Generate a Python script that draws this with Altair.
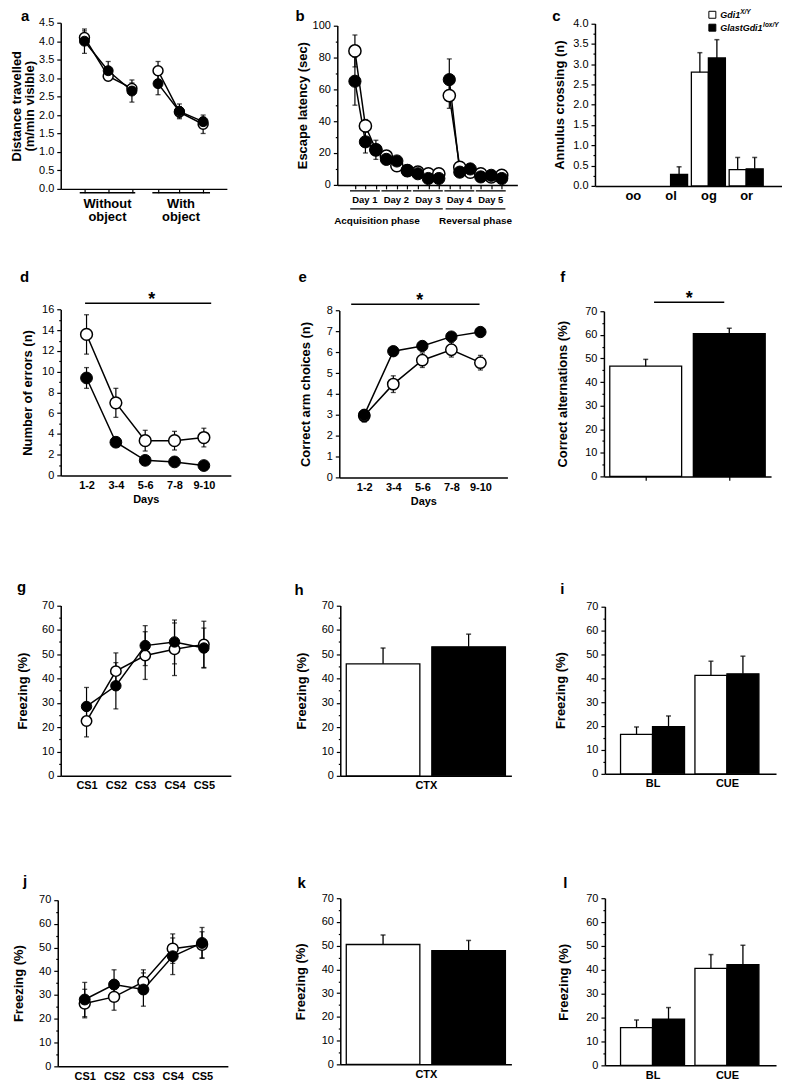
import altair as alt
import pandas as pd

FONT = "Liberation Sans"

# ---------------- panel a : open field ----------------
a_x = [1, 2, 3, 4.1, 5, 6]
a_seg = ["1", "1", "1", "2", "2", "2"]
a_open = [4.1, 3.05, 2.72, 3.2, 2.08, 1.75]
a_open_err = [0.18, 0.1, 0.15, 0.25, 0.15, 0.25]
a_fill = [4.0, 3.2, 2.65, 2.85, 2.1, 1.82]
a_fill_err = [0.33, 0.25, 0.3, 0.3, 0.2, 0.12]
a_groups = ["Without\nobject", "With\nobject"]

# ---------------- panel b : water maze ----------------
b_x = list(range(1, 16))
b_seg = ["1"] * 9 + ["2"] * 6
b_open = [84, 37, 22, 18, 12, 9, 8, 7, 7, 56, 11, 8, 7, 5, 6]
b_open_err = [10, 4, 3, 2, 2, 1.5, 1.5, 1.5, 1.5, 8, 2, 1.5, 1.5, 1, 1]
b_fill = [65, 27, 22, 16, 15, 9, 7, 4, 4, 66, 8, 10, 5, 6, 4]
b_fill_err = [15, 7, 6, 2, 2, 2, 1.5, 1, 1, 13, 2, 2, 1, 1, 1]
b_days = ["Day 1", "Day 2", "Day 3", "Day 4", "Day 5"]
b_phases = ["Acquisition phase", "Reversal phase"]

# ---------------- panel c : annulus crossing ----------------
c_cats = ["oo", "ol", "og", "or"]
c_open = [0, 0, 2.8, 0.4]
c_open_err = [0, 0, 0.48, 0.3]
c_fill = [0, 0.28, 3.15, 0.42]
c_fill_err = [0, 0.19, 0.45, 0.28]
legend_names = ["Gdi1", "GlastGdi1"]
legend_sups = ["X/Y", "lox/Y"]

# ---------------- panels d, e : radial maze ----------------
days = ["1-2", "3-4", "5-6", "7-8", "9-10"]
d_open = [13.6, 7.0, 3.35, 3.35, 3.65]
d_open_err = [1.9, 1.4, 1.0, 0.9, 0.9]
d_fill = [9.4, 3.2, 1.45, 1.3, 0.95]
d_fill_err = [1.0, 0.3, 0.25, 0.25, 0.2]

e_open = [2.95, 4.47, 5.62, 6.12, 5.5]
e_open_err = [0.3, 0.4, 0.35, 0.35, 0.35]
e_fill = [3.0, 6.05, 6.3, 6.75, 6.97]
e_fill_err = [0.2, 0.15, 0.15, 0.15, 0.15]

# ---------------- panel f : alternations ----------------
f_vals = [46.7, 60.5]
f_err = [2.9, 2.3]

# ---------------- panels g-i : fear conditioning ----------------
cs = ["CS1", "CS2", "CS3", "CS4", "CS5"]
g_open = [22.5, 43.0, 49.4, 52.0, 54.0]
g_open_err = [6.5, 7.5, 9.8, 10.8, 9.5]
g_fill = [28.5, 37.0, 53.5, 55.0, 52.5]
g_fill_err = [7.8, 9.5, 8.2, 9.0, 8.2]

h_vals = [46.0, 53.0]
h_err = [6.5, 5.2]

cue_cats = ["BL", "CUE"]
i_open = [16.5, 41.2]
i_open_err = [3.1, 5.9]
i_fill = [19.7, 41.8]
i_fill_err = [4.5, 7.4]

# ---------------- panels j-l ----------------
j_open = [26.4, 29.2, 35.5, 49.5, 51.1]
j_open_err = [6.0, 5.6, 5.1, 6.2, 5.5]
j_fill = [28.1, 34.4, 32.3, 46.3, 51.9]
j_fill_err = [7.2, 6.2, 7.0, 7.7, 6.5]

k_vals = [50.5, 47.9]
k_err = [4.0, 4.3]

l_open = [15.8, 40.6]
l_open_err = [3.2, 5.8]
l_fill = [19.3, 42.2]
l_fill_err = [4.9, 8.1]


# ======================= helpers =======================
def lines_df(x, ov, oe, fv, fe, seg=None):
    rows = []
    for g, vals, errs in (("open", ov, oe), ("fill", fv, fe)):
        for i in range(len(x)):
            rows.append(dict(x=x[i], y=vals[i], lo=vals[i] - errs[i], hi=vals[i] + errs[i],
                             g=g, seg=g + (seg[i] if seg else "")))
    return pd.DataFrame(rows)


def bars_df(centers, ov, oe, fv, fe, half, paired):
    rows = []
    for i, c in enumerate(centers):
        if paired:
            spans = (("open", c - half, c, ov[i], oe[i]), ("fill", c, c + half, fv[i], fe[i]))
        else:
            spans = ((("open", "fill")[i], c - half, c + half, ov[i], oe[i]),)
        for g, x0, x1, v, e in spans:
            if v > 0:
                rows.append(dict(x0=x0, x1=x1, xm=(x0 + x1) / 2, y=v, hi=v + e, base=0, g=g))
    return pd.DataFrame(rows)


def yaxis(title, major, minor, vmax, fmt, pad, offset=0):
    n = int(round(vmax / minor))
    vals = [round(i * minor, 4) for i in range(n + 1)]
    test = f"abs(datum.value / {major} - round(datum.value / {major})) < 0.001"
    kw = dict(title=title, values=vals, format=fmt, labelExpr=f"{test} ? datum.label : ''",
              tickSize={"condition": {"test": test, "value": 4}, "value": 2},
              titlePadding=pad, labelOverlap=False, grid=False, titleLineHeight=13)
    if offset:
        kw["offset"] = offset
    return alt.Axis(**kw)


def xaxis(values, labels=None, title=None, ticks=False, label_size=11):
    kw = dict(values=values, grid=False, labelOverlap=False)
    if ticks:
        kw["ticks"] = True
        kw["tickSize"] = 4
    else:
        kw["ticks"] = False
    if labels is None:
        kw["labels"] = False
    else:
        arr = "[" + ",".join(f"'{t}'" for t in labels) + "]"
        varr = "[" + ",".join(str(v) for v in values) + "]"
        kw["labelExpr"] = f"{arr}[indexof({varr}, datum.value)]"
        kw["labelFontSize"] = label_size
        kw["labelFontWeight"] = "bold"
        kw["labelPadding"] = 4
    if title is not None:
        kw["title"] = title
        kw["titleFontSize"] = 11
        kw["titlePadding"] = 3
    else:
        kw["title"] = None
    return alt.Axis(**kw)


def letter(t, dx, dy):
    return alt.TitleParams(text=t, anchor="start", frame="group", dx=dx, dy=dy, offset=0,
                           baseline="alphabetic", fontSize=15, fontWeight="bold", font=FONT,
                           color="black")


def line_layers(df, size):
    def fn(X, Y):
        base = alt.Chart(df)
        err = base.mark_rule(color="black", strokeWidth=1.2).encode(x=X("x"), y=Y("lo"), y2="hi")
        cap1 = base.mark_tick(orient="horizontal", size=5, thickness=1.3, color="black").encode(x=X("x"), y=Y("hi"))
        cap2 = base.mark_tick(orient="horizontal", size=5, thickness=1.3, color="black").encode(x=X("x"), y=Y("lo"))
        ln = base.mark_line(color="black", strokeWidth=1.5).encode(x=X("x"), y=Y("y"), detail="seg:N")
        po = base.transform_filter("datum.g == 'open'").mark_circle(
            size=size, fill="white", stroke="black", strokeWidth=1.5, opacity=1).encode(x=X("x"), y=Y("y"))
        pf = base.transform_filter("datum.g == 'fill'").mark_circle(
            size=size, fill="black", stroke="black", strokeWidth=1, opacity=1).encode(x=X("x"), y=Y("y"))
        return [err, cap1, cap2, ln, po, pf]
    return fn


def bar_layers(df):
    def fn(X, Y):
        base = alt.Chart(df)
        bars = base.mark_bar(stroke="black", strokeWidth=1.3).encode(
            x=X("x0"), x2="x1", y=Y("y"), y2="base",
            fill=alt.Fill("g:N", scale=alt.Scale(domain=["open", "fill"], range=["white", "black"]), legend=None))
        err = base.mark_rule(color="black", strokeWidth=1.3).encode(x=X("xm"), y=Y("y"), y2="hi")
        cap = base.mark_tick(orient="horizontal", size=5, thickness=1.5, color="black").encode(x=X("xm"), y=Y("hi"))
        return [bars, err, cap]
    return fn


def panel(fns, xdom, xr, ydom, yr, xax, yax, ttl):
    """xr = (left, right) pixel range inside the cell, yr = (bottom, top)."""
    xs = alt.Scale(domain=xdom, range=list(xr), nice=False, zero=False)
    ys = alt.Scale(domain=ydom, range=list(yr), nice=False, zero=False)

    def X(f):
        return alt.X(f, type="quantitative", scale=xs, axis=xax)

    def Y(f):
        return alt.Y(f, type="quantitative", scale=ys, axis=yax)

    layers = []
    for fn in fns:
        layers += fn(X, Y)
    return alt.layer(*layers).properties(width=xr[1], height=yr[0], title=ttl)


def sig_layers(x1, x2, xstar, y):
    def fn(X, Y):
        d = pd.DataFrame({"x1": [x1], "x2": [x2], "xm": [xstar], "y": [y], "t": ["*"]})
        r = alt.Chart(d).mark_rule(color="black", strokeWidth=1.5).encode(x=X("x1"), x2="x2", y=Y("y"))
        t = alt.Chart(d).mark_text(fontSize=18, fontWeight="bold", baseline="alphabetic", dy=1.3).encode(
            x=X("xm"), y=Y("y"), text="t:N")
        return [r, t]
    return fn


# ======================= panel a =======================
def a_extras(X, Y):
    und = pd.DataFrame({"x1": [0.8, 3.86], "x2": [3.14, 6.29], "xm": [1.97, 5.07],
                        "y": [-0.108, -0.108], "ty": [-0.26, -0.26], "t": a_groups})
    r = alt.Chart(und).mark_rule(color="black", strokeWidth=1.5).encode(x=X("x1"), x2="x2", y=Y("y"))
    t = alt.Chart(und).mark_text(baseline="top", fontSize=13, fontWeight="bold", lineBreak="\n",
                                 lineHeight=13).encode(x=X("xm"), y=Y("ty"), text="t:N")
    return [r, t]


pa = panel([line_layers(lines_df(a_x, a_open, a_open_err, a_fill, a_fill_err, a_seg), 100), a_extras],
           [0, 7], (0, 167), [0, 4.5], (167, 0), xaxis(a_x, ticks=True),
           yaxis(["Distance travelled", "(m/min visible)"], 0.5, 0.5, 4.5, ".1f", 2),
           letter("a", -40, 19))


# ======================= panel b =======================
def b_extras(X, Y):
    dd = pd.DataFrame({"x1": [3 * k + 1 - 0.47 for k in range(5)], "x2": [3 * k + 3 + 0.38 for k in range(5)],
                       "xm": [3 * k + 2 - 0.05 for k in range(5)], "y": [-3.74] * 5, "ty": [-6.2] * 5,
                       "t": b_days})
    pp = pd.DataFrame({"x1": [0.55, 9.65], "x2": [9.38, 15.35], "xm": [3.1, 12.5], "y": [-15.0] * 2,
                       "ty": [-19.5] * 2, "t": b_phases})
    out = []
    for d, fs in ((dd, 9.5), (pp, 10)):
        out.append(alt.Chart(d).mark_rule(color="black", strokeWidth=1.3).encode(x=X("x1"), x2="x2", y=Y("y")))
        out.append(alt.Chart(d).mark_text(baseline="top", fontSize=fs, fontWeight="bold").encode(
            x=X("xm"), y=Y("ty"), text="t:N"))
    return out


pb = panel([line_layers(lines_df(b_x, b_open, b_open_err, b_fill, b_fill_err, b_seg), 150), b_extras],
           [-0.68, 16.49], (-3, 178), [0, 100], (163, 2.7), xaxis(b_x, ticks=True),
           yaxis("Escape latency (sec)", 20, 10, 100, "d", 3, offset=3),
           letter("b", -45, 16.3))


# ======================= panel c =======================
def c_legend(X, Y):
    sq = pd.DataFrame({"x": [3.105, 3.105], "y": [4.213, 3.895], "g": ["open", "fill"]})
    s = alt.Chart(sq).mark_square(size=49, stroke="black", strokeWidth=1, opacity=1).encode(
        x=X("x"), y=Y("y"),
        fill=alt.Fill("g:N", scale=alt.Scale(domain=["open", "fill"], range=["white", "black"]), legend=None))
    out = [s]
    for i, dx in enumerate([20, 43]):
        d = pd.DataFrame({"x": [3.316], "y": [sq["y"][i]], "t": [legend_names[i]], "s": [legend_sups[i]]})
        out.append(alt.Chart(d).mark_text(align="left", baseline="middle", fontSize=9, fontWeight="bold",
                                          fontStyle="italic").encode(x=X("x"), y=Y("y"), text="t:N"))
        out.append(alt.Chart(d).mark_text(align="left", baseline="middle", fontSize=6.5, fontWeight="bold",
                                          fontStyle="italic", dx=dx, dy=-3).encode(x=X("x"), y=Y("y"), text="s:N"))
    return out


pc = panel([bar_layers(bars_df([1, 2, 3, 4], c_open, c_open_err, c_fill, c_fill_err, 0.45, True)), c_legend],
           [0, 5], (-10, 180), [0, 4], (164, 0.7), xaxis([1, 2, 3, 4], c_cats, label_size=13),
           yaxis("Annulus crossing (n)", 0.5, 0.25, 4, ".1f", 6, offset=10),
           letter("c", -53, 27))

# ======================= panels d, e, f =======================
pd_ = panel([line_layers(lines_df([1, 2, 3, 4, 5], d_open, d_open_err, d_fill, d_fill_err), 140),
             sig_layers(0.95, 5.25, 3.22, 16.6)],
            [0.12, 5.92], (0, 171), [0, 16], (167, 0.3), xaxis([1, 2, 3, 4, 5], days, "Days"),
            yaxis("Number of  errors (n)", 2, 1, 16, "d", 7),
            letter("d", -41, 6.6))

pe = panel([line_layers(lines_df([1, 2, 3, 4, 5], e_open, e_open_err, e_fill, e_fill_err), 130),
            sig_layers(0.55, 4.97, 2.91, 8.30)],
           [0.14, 5.93], (-1, 168), [0, 8], (169, 1.3), xaxis([1, 2, 3, 4, 5], days, "Days"),
           yaxis("Correct arm choices (n)", 1, 0.5, 8, "d", 14, offset=1),
           letter("e", -42, 5.7))

pf = panel([bar_layers(bars_df([0.5, 1.5], f_vals, f_err, f_vals, f_err, 0.43, False)),
            sig_layers(0.6, 1.44, 1.02, 73.8)],
           [0, 2], (-1, 167), [0, 70], (168, 2), xaxis([0.5, 1.5], ticks=True),
           yaxis("Correct alternations (%)", 10, 5, 70, "d", 15, offset=1),
           letter("f", -45, 7.7))

# ======================= panels g, h, i =======================
pg = panel([line_layers(lines_df([1, 2, 3, 4, 5], g_open, g_open_err, g_fill, g_fill_err), 110)],
           [0.12, 5.92], (0, 171), [0, 70], (172, 0.7), xaxis([1, 2, 3, 4, 5], cs),
           yaxis("Freezing (%)", 10, 5, 70, "d", 12),
           letter("g", -44, 7.3))

ph = panel([bar_layers(bars_df([0.5, 1.5], h_vals, h_err, h_vals, h_err, 0.43, False))],
           [0, 2], (0, 172), [0, 70], (172, 0.7), xaxis([1], ["CTX"]),
           yaxis("Freezing (%)", 10, 5, 70, "d", 13),
           letter("h", -46, 10.3))

pi = panel([bar_layers(bars_df([0.64, 1.64], i_open, i_open_err, i_fill, i_fill_err, 0.43, True))],
           [0, 2.3], (0, 172), [0, 70], (170, 1.7), xaxis([0.64, 1.64], cue_cats),
           yaxis("Freezing (%)", 10, 5, 70, "d", 18),
           letter("i", -45, 8.3))

# ======================= panels j, k, l =======================
pj = panel([line_layers(lines_df([1, 2, 3, 4, 5], j_open, j_open_err, j_fill, j_fill_err), 120)],
           [0.08, 5.88], (-3, 168), [0, 70], (169, 1.7), xaxis([1, 2, 3, 4, 5], cs),
           yaxis("Freezing (%)", 10, 5, 70, "d", 13, offset=3),
           letter("j", -38, 7.3))

pk = panel([bar_layers(bars_df([0.5, 1.5], k_vals, k_err, k_vals, k_err, 0.43, False))],
           [0, 2], (0, 172), [0, 70], (167, 0), xaxis([1], ["CTX"]),
           yaxis("Freezing (%)", 10, 5, 70, "d", 14),
           letter("k", -43, 11))

pl = panel([bar_layers(bars_df([0.64, 1.64], l_open, l_open_err, l_fill, l_fill_err, 0.43, True))],
           [0, 2.3], (0, 172), [0, 70], (168, 0), xaxis([0.64, 1.64], cue_cats),
           yaxis("Freezing (%)", 10, 5, 70, "d", 15),
           letter("l", -42, 11))


# ======================= layout: grid of cells, spacer cells set the gaps =======================
def spacer(w, h):
    return alt.Chart(pd.DataFrame({"v": [0]})).mark_point(opacity=0).properties(width=w, height=h)


def panel_row(p1, p2, p3):
    return [p1, spacer(110, 1), p2, spacer(88, 1), p3]


def gap_row(h):
    return [spacer(1, h)] + [spacer(1, 1) for _ in range(4)]


items = (panel_row(pa, pb, pc) + gap_row(121) +
         panel_row(pd_, pe, pf) + gap_row(128) +
         panel_row(pg, ph, pi) + gap_row(123) +
         panel_row(pj, pk, pl))

chart = alt.concat(
    *items, columns=5, spacing=0, bounds="flush",
    align=alt.RowColLayoutAlign(row="each", column="none"),
).properties(
    autosize=alt.AutoSizeParams(type="none"),
    padding={"left": 53, "top": 12, "right": 725, "bottom": 1075},
).configure(font=FONT).configure_view(stroke=None).configure_axis(
    domainColor="black", domainWidth=1.5, tickColor="black", tickWidth=1.2,
    labelColor="black", labelFont=FONT, labelFontSize=11, labelPadding=3,
    titleFont=FONT, titleFontSize=13, titleFontWeight="bold", titleColor="black", grid=False,
).configure_text(font=FONT, color="black")

chart.save("out.html", embed_options={"renderer": "svg", "actions": False})
